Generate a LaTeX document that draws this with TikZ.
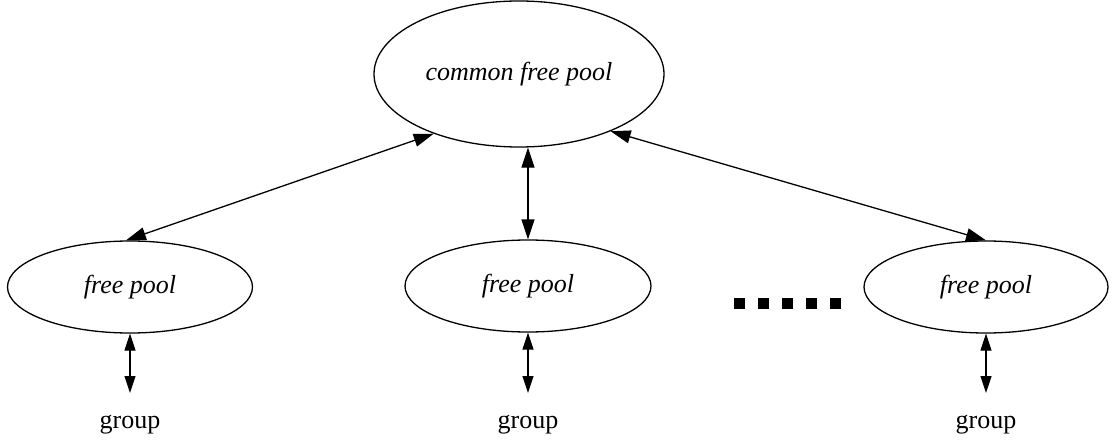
\documentclass[tikz,border=0pt]{standalone}
\usepackage{fontspec}
\setmainfont{Liberation Serif}
\usetikzlibrary{arrows.meta,shapes.geometric}

\tikzset{
  pool/.style={ellipse, draw, line width=1.3pt, inner sep=0pt,
               font=\fontsize{26}{30}\selectfont\itshape},
  label/.style={inner sep=0pt, font=\fontsize{26}{30}\selectfont},
  link/.style={line width=1.3pt, {Triangle[length=20pt,width=13pt]}-{Triangle[length=20pt,width=13pt]}},
  sublink/.style={line width=1.1pt, {Triangle[length=17pt,width=11pt]}-{Triangle[length=17pt,width=11pt]}},
  dot/.style={fill=black, draw=none, minimum size=11pt, inner sep=0pt, shape=rectangle}
}

\begin{document}
\begin{tikzpicture}[x=1pt,y=-1pt]
  \useasboundingbox (0,0) rectangle (1113,441);

  % pools
  \node[pool, minimum width=290pt, minimum height=146pt] (common) at (519,74) {common free pool};
  \node[pool, minimum width=245pt, minimum height=92pt] (p1) at (130,287) {free pool};
  \node[pool, minimum width=246pt, minimum height=92pt] (p2) at (528,286) {free pool};
  \node[pool, minimum width=244pt, minimum height=92pt] (p3) at (986,287) {free pool};

  % groups
  \node[label] (g1) at (130,425) {group};
  \node[label] (g2) at (528,425) {group};
  \node[label] (g3) at (986,425) {group};
  \coordinate (e1) at (130,393);
  \coordinate (e2) at (528,393);
  \coordinate (e3) at (986,393);

  % ellipsis between the pools
  \foreach \i/\x in {1/739,2/763,3/787,4/811,5/835}
    \node[dot] (d\i) at (\x,303) {};

  % links to the common pool
  \draw[link] (common.215) -- (p1.95);
  \draw[link] (p2.north |- common.south) -- (p2.north);
  \draw[link] (common.-32) -- (p3.north);

  % links from each pool to its group
  \draw[sublink] (p1.south) -- (e1);
  \draw[sublink] (p2.south) -- (e2);
  \draw[sublink] (p3.south) -- (e3);
\end{tikzpicture}
\end{document}
